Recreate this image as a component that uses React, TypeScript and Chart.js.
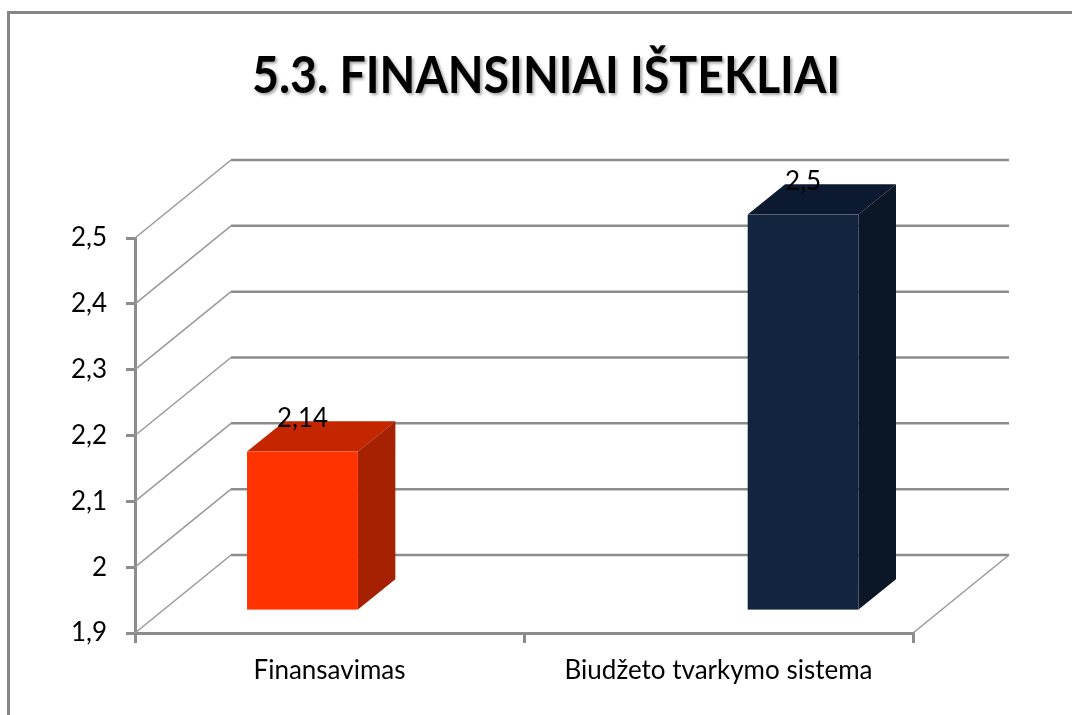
import React, { useEffect, useRef } from "react";
import { Chart, registerables } from "chart.js";

Chart.register(...registerables);

const TITLE = "5.3. FINANSINIAI IŠTEKLIAI";
const CATEGORIES = ["Finansavimas", "Biudžeto tvarkymo sistema"];
const VALUES = [2.14, 2.5];
const FRONT_COLORS = ["#FF3300", "#12243E"];
const TOP_COLORS = ["#C42600", "#0C1A31"];
const SIDE_COLORS = ["#A52100", "#0B1627"];
const Y_MIN = 1.9;
const Y_MAX = 2.5;
const Y_STEP = 0.1;

// 3D look
const DEPTH_X = 96;
const DEPTH_Y = -78;
const BAR_DEPTH_START = 0.3;
const BAR_DEPTH = 0.39;
const PERSPECTIVE = 1.287;
const GRID = "#8C8C8C";
const FONT = "Lato, 'Open Sans', sans-serif";

const fmt = (v: number) => String(Math.round(v * 100) / 100).replace(".", ",");

const threeDPlugin = {
  id: "threeD",
  beforeDraw(chart: any) {
    const ctx = chart.ctx;
    ctx.save();
    ctx.fillStyle = "#fff";
    ctx.fillRect(0, 0, chart.width, chart.height);
    // outer frame
    ctx.strokeStyle = "#868686";
    ctx.lineWidth = 3;
    ctx.beginPath();
    ctx.moveTo(8.5, chart.height);
    ctx.lineTo(8.5, 12.5);
    ctx.lineTo(chart.width, 12.5);
    ctx.stroke();
    // title
    ctx.font = `bold 52px ${FONT}`;
    const w = ctx.measureText(TITLE).width;
    const sx = 588 / w;
    ctx.shadowColor = "rgba(0,0,0,0.35)";
    ctx.shadowOffsetX = 2;
    ctx.shadowOffsetY = 2;
    ctx.shadowBlur = 3;
    ctx.fillStyle = "#000";
    ctx.textAlign = "center";
    ctx.textBaseline = "alphabetic";
    ctx.translate(546, 93);
    ctx.scale(sx, 1);
    ctx.fillText(TITLE, 0, 0);
    ctx.restore();
  },
  beforeDatasetsDraw(chart: any) {
    const ctx = chart.ctx;
    const area = chart.chartArea;
    const yScale = chart.scales.y;
    ctx.save();
    // walls
    ctx.lineCap = "butt";
    yScale.ticks.forEach((t: any) => {
      const y = yScale.getPixelForValue(t.value);
      ctx.strokeStyle = "#999";
      ctx.lineWidth = 1.5;
      ctx.beginPath();
      ctx.moveTo(area.left, y);
      ctx.lineTo(area.left + DEPTH_X, y + DEPTH_Y);
      ctx.stroke();
      ctx.strokeStyle = GRID;
      ctx.lineWidth = 2.5;
      ctx.beginPath();
      ctx.moveTo(area.left + DEPTH_X, y + DEPTH_Y);
      ctx.lineTo(area.right + DEPTH_X, y + DEPTH_Y);
      ctx.stroke();
    });
    ctx.strokeStyle = "#999";
    ctx.lineWidth = 1.5;
    ctx.beginPath();
    ctx.moveTo(area.right, area.bottom);
    ctx.lineTo(area.right + DEPTH_X, area.bottom + DEPTH_Y);
    ctx.stroke();

    // bars
    const meta = chart.getDatasetMeta(0);
    const cx = (area.left + area.right) / 2;
    const d0x = DEPTH_X * BAR_DEPTH_START;
    const d0y = DEPTH_Y * BAR_DEPTH_START;
    const ox = DEPTH_X * BAR_DEPTH;
    const oy = DEPTH_Y * BAR_DEPTH;
    const floor = yScale.getPixelForValue(yScale.min);
    meta.data.forEach((el: any, i: number) => {
      const { x, y, base, width } = el.getProps(["x", "y", "base", "width"], true);
      const fx = cx + (x - cx) * PERSPECTIVE;
      const L = fx - width / 2 + d0x;
      const R = fx + width / 2 + d0x;
      const T = y + d0y;
      const B = Math.min(base, floor) + d0y;
      // top
      ctx.fillStyle = TOP_COLORS[i];
      ctx.beginPath();
      ctx.moveTo(L, T);
      ctx.lineTo(R, T);
      ctx.lineTo(R + ox, T + oy);
      ctx.lineTo(L + ox, T + oy);
      ctx.closePath();
      ctx.fill();
      // side
      ctx.fillStyle = SIDE_COLORS[i];
      ctx.beginPath();
      ctx.moveTo(R, T);
      ctx.lineTo(R + ox, T + oy);
      ctx.lineTo(R + ox, B + oy);
      ctx.lineTo(R, B);
      ctx.closePath();
      ctx.fill();
      // front
      ctx.fillStyle = FRONT_COLORS[i];
      ctx.fillRect(L, T, R - L, B - T);
      // value label
      ctx.fillStyle = "#000";
      ctx.font = `26px ${FONT}`;
      ctx.textAlign = "center";
      ctx.textBaseline = "middle";
      ctx.fillText(fmt(VALUES[i]), (L + R) / 2, T - 33);
    });
    ctx.restore();
    return false;
  },
};

export default function App() {
  const ref = useRef<HTMLCanvasElement>(null);
  useEffect(() => {
    document.body.style.margin = "0";
    const chart = new Chart(ref.current!, {
      type: "bar",
      data: {
        labels: CATEGORIES,
        datasets: [
          {
            label: TITLE,
            data: VALUES,
            backgroundColor: FRONT_COLORS,
            barPercentage: 0.285,
            categoryPercentage: 1,
          },
        ],
      },
      options: {
        responsive: false,
        animation: false,
        layout: { padding: { left: 8, right: 159, top: 238, bottom: 0 } },
        plugins: {
          legend: { display: false },
          title: { display: false },
          tooltip: { enabled: false },
        },
        scales: {
          x: {
            grid: {
              offset: true,
              drawOnChartArea: false,
              drawTicks: true,
              tickLength: 10,
              color: GRID,
              lineWidth: 3,
            },
            border: { color: GRID, width: 3 },
            ticks: { color: "#000", font: { family: FONT, size: 26 }, padding: 12, maxRotation: 0 },
            afterFit: (s: any) => {
              s.height = 82;
            },
          },
          y: {
            min: Y_MIN,
            max: Y_MAX,
            grid: {
              drawOnChartArea: false,
              drawTicks: true,
              tickLength: 9,
              color: GRID,
              lineWidth: 3,
            },
            border: { color: GRID, width: 3 },
            ticks: {
              stepSize: Y_STEP,
              color: "#000",
              font: { family: FONT, size: 26 },
              padding: 19,
              callback: (v: any) => fmt(Number(v)),
            },
            afterFit: (s: any) => {
              s.width = 127;
            },
          },
        },
      },
      plugins: [threeDPlugin],
    } as any);
    return () => chart.destroy();
  }, []);
  return <canvas ref={ref} width={1072} height={715} style={{ display: "block" }} />;
}
